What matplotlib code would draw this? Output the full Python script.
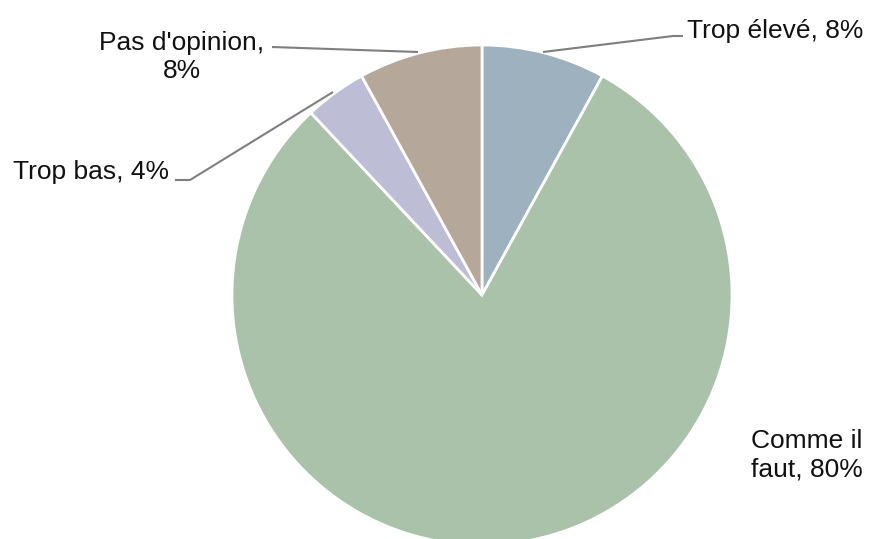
import matplotlib.pyplot as plt

labels = ['Trop élevé, 8%', 'Comme il\nfaut, 80%', 'Trop bas, 4%', "Pas d'opinion,\n8%"]
values = [8, 80, 4, 8]
colors = ['#9DB1BF', '#A9C2A9', '#BDBED6', '#B5A89B']

plt.rcParams['font.family'] = ['Liberation Sans', 'DejaVu Sans']

W, H = 870, 539
fig = plt.figure(figsize=(W / 100, H / 100), dpi=100)
ax = fig.add_axes([0, 0, 1, 1])

# pie in pixel coordinates (y measured from bottom)
ax.pie(values, colors=colors, startangle=90, counterclock=False,
       center=(482, H - 295), radius=250, frame=True,
       wedgeprops=dict(edgecolor='white', linewidth=2))
ax.set_xlim(0, W)
ax.set_ylim(0, H)
ax.set_aspect('equal')
ax.axis('off')

def py(y):
    return H - y

line_kw = dict(color='#7F7F7F', lw=1.5, solid_capstyle='butt')
fs = 19
tc = '#111111'

# Trop élevé
ax.plot([543, 673, 683], [py(52), py(36), py(36)], **line_kw)
ax.text(687, py(31), labels[0], fontsize=fs, color=tc, ha='left', va='center')

# Comme il faut
ax.text(807, py(455), labels[1], fontsize=fs, color=tc, ha='center', va='center',
        multialignment='center', linespacing=1.25)

# Trop bas
ax.plot([175, 190, 333], [py(180), py(180), py(92)], **line_kw)
ax.text(169, py(172), labels[2], fontsize=fs, color=tc, ha='right', va='center')

# Pas d'opinion
ax.plot([272, 418], [py(47), py(52)], **line_kw)
ax.text(182, py(57), labels[3], fontsize=fs, color=tc, ha='center', va='center',
        multialignment='center', linespacing=1.25)

fig.savefig('out.png', dpi=100)
